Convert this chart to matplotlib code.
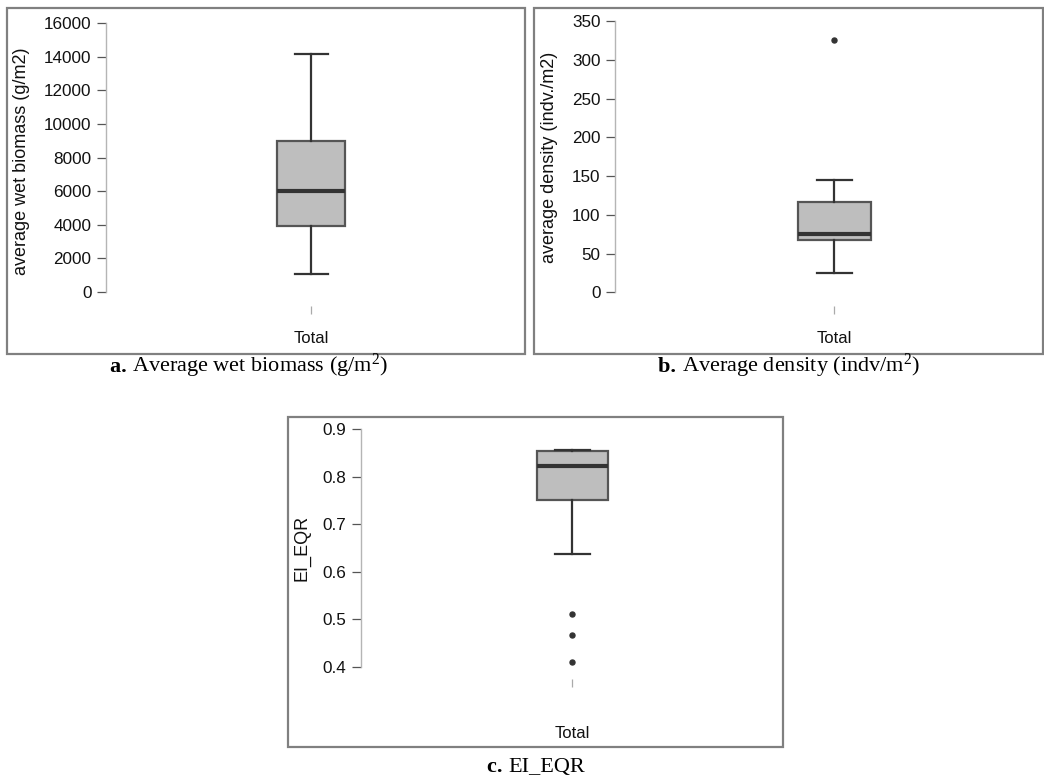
import matplotlib
matplotlib.use("Agg")
import matplotlib.pyplot as plt
from matplotlib.patches import Rectangle

# ---------------- data ----------------
category = ["Total"]

biomass_stats = dict(whislo=1100, q1=3900, med=6000, q3=9000, whishi=14150)
biomass_fliers = []
biomass_ticks = [0, 2000, 4000, 6000, 8000, 10000, 12000, 14000, 16000]

density_stats = dict(whislo=25, q1=67, med=75, q3=117, whishi=145)
density_fliers = [325]
density_ticks = [0, 50, 100, 150, 200, 250, 300, 350]

eqr_stats = dict(whislo=0.637, q1=0.752, med=0.823, q3=0.854, whishi=0.856)
eqr_fliers = [0.51, 0.466, 0.409]
eqr_ticks = [0.4, 0.5, 0.6, 0.7, 0.8, 0.9]
eqr_ticklabels = ["0.4", "0.5", "0.6", "0.7", "0.8", "0.9"]

ylabels = ["average wet biomass (g/m2)", "average density (indv./m2)", "EI_EQR"]
caption_letters = ["a.", "b.", "c."]
caption_texts = [r"Average wet biomass (g/m$^{2}$)",
                 r"Average density (indv/m$^{2}$)",
                 "EI_EQR"]

# ---------------- figure ----------------
W, H = 1044, 779
plt.rcParams['font.family'] = ['Liberation Sans', 'DejaVu Sans']
plt.rcParams['mathtext.fontset'] = 'custom'
plt.rcParams['mathtext.rm'] = 'Liberation Serif'
plt.rcParams['mathtext.bf'] = 'Liberation Serif:bold'
plt.rcParams['mathtext.it'] = 'Liberation Serif:italic'
fig = plt.figure(figsize=(W / 100, H / 100), dpi=100)
fig.patch.set_facecolor("white")

def fx(px):
    return px / W

def fy(py):
    return 1 - py / H

FILL = "#bebebe"
EDGE = "#555555"
DARK = "#333333"
SPINE = "#b5b5b5"


def caption(letter, text, cx, cy):
    # measure total width, then place bold letter + normal text
    r = fig.canvas.get_renderer()
    t1 = fig.text(0, 0, letter + " ", fontsize=16, family="Liberation Serif",
                  weight="bold")
    t2 = fig.text(0, 0, text, fontsize=16, family="Liberation Serif")
    w1 = t1.get_window_extent(r).width
    w2 = t2.get_window_extent(r).width
    left = cx - (w1 + w2) / 2
    t1.set_position((fx(left), fy(cy)))
    t1.set_va("baseline")
    t2.set_position((fx(left + w1), fy(cy)))
    t2.set_va("baseline")


def panel(frame, spine_x, right_x, ax_top, ax_bottom, p0, v0, p1, v1,
          cx, box_w, cap_w, stats, fliers, ticks, ticklabels, ylabel,
          ylab_pos, total_y):
    x0, y0, x1, y1 = frame
    fig.patches.append(Rectangle((fx(x0), fy(y1)), fx(x1 - x0), (y1 - y0) / H,
                                 transform=fig.transFigure, fill=False,
                                 edgecolor="#808080", linewidth=1.6))
    ax = fig.add_axes([fx(spine_x), fy(ax_bottom), fx(right_x - spine_x),
                       (ax_bottom - ax_top) / H])
    scale = (v1 - v0) / (p0 - p1)
    ylo = v0 - (ax_bottom - p0) * scale
    yhi = v0 + (p0 - ax_top) * scale
    ax.set_ylim(ylo, yhi)
    s = 400.0
    ax.set_xlim(1 - (cx - spine_x) / s, 1 + (right_x - cx) / s)
    st = dict(stats)
    st["fliers"] = fliers
    st["label"] = category[0]
    ax.bxp([st], positions=[1], widths=box_w / s, capwidths=cap_w / s,
           patch_artist=True, showfliers=True,
           boxprops=dict(facecolor=FILL, edgecolor=EDGE, linewidth=1.6),
           medianprops=dict(color=DARK, linewidth=3.0, solid_capstyle="butt"),
           whiskerprops=dict(color=DARK, linewidth=1.6),
           capprops=dict(color=DARK, linewidth=1.6),
           flierprops=dict(marker="o", markersize=3.6, markerfacecolor=DARK,
                           markeredgecolor=DARK))
    for sp in ["top", "right", "bottom"]:
        ax.spines[sp].set_visible(False)
    ax.spines["left"].set_color(SPINE)
    ax.spines["left"].set_linewidth(1.0)
    ax.spines["left"].set_bounds(ticks[0], ticks[-1])
    ax.set_yticks(ticks)
    ax.set_yticklabels(ticklabels)
    ax.tick_params(axis="y", direction="out", length=6.5, width=0.9,
                   color="#555555", labelsize=12.3, pad=4, labelcolor="#111111")
    ax.set_xticks([1])
    ax.set_xticklabels([""])
    ax.tick_params(axis="x", direction="out", length=6, width=0.9,
                   color="#aaaaaa")
    ax.patch.set_alpha(0)
    fig.text(fx(cx), fy(total_y), category[0], ha="center", va="center",
             fontsize=12, color="#111111")
    fig.text(fx(ylab_pos[0]), fy(ylab_pos[1]), ylabel, rotation=90,
             ha="center", va="center", fontsize=13, color="#111111")
    return ax


panel(frame=(7, 8, 525, 354), spine_x=106, right_x=515, ax_top=14,
      ax_bottom=306, p0=292, v0=0, p1=23, v1=16000, cx=311, box_w=68,
      cap_w=33, stats=biomass_stats, fliers=biomass_fliers,
      ticks=biomass_ticks, ticklabels=[str(t) for t in biomass_ticks],
      ylabel=ylabels[0], ylab_pos=(22, 161), total_y=338)

panel(frame=(534, 8, 1043, 354), spine_x=615, right_x=1035, ax_top=14,
      ax_bottom=306, p0=292.3, v0=0, p1=21, v1=350, cx=834, box_w=73,
      cap_w=35, stats=density_stats, fliers=density_fliers,
      ticks=density_ticks, ticklabels=[str(t) for t in density_ticks],
      ylabel=ylabels[1], ylab_pos=(549, 157), total_y=338)

panel(frame=(288, 417, 783, 747), spine_x=361, right_x=775, ax_top=422,
      ax_bottom=679, p0=666.7, v0=0.4, p1=429.3, v1=0.9, cx=572, box_w=71,
      cap_w=35, stats=eqr_stats, fliers=eqr_fliers,
      ticks=eqr_ticks, ticklabels=eqr_ticklabels,
      ylabel=ylabels[2], ylab_pos=(302, 548), total_y=733)

caption(caption_letters[0], caption_texts[0], 249, 372)
caption(caption_letters[1], caption_texts[1], 789, 372)
caption(caption_letters[2], caption_texts[2], 536, 772)

fig.savefig("out.png", dpi=100, facecolor="white")
